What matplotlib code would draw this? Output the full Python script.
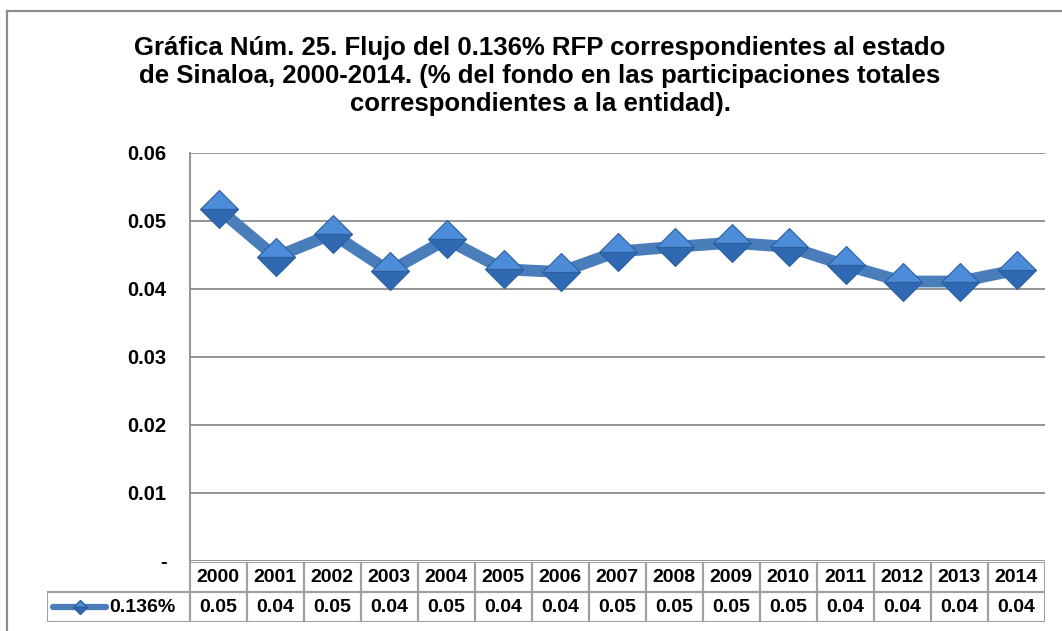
import matplotlib.pyplot as plt
from matplotlib.lines import Line2D
from matplotlib.patches import Rectangle
from matplotlib.ticker import FuncFormatter

# -------------------------
# Data
# -------------------------
years = ["2000", "2001", "2002", "2003", "2004", "2005", "2006", "2007",
         "2008", "2009", "2010", "2011", "2012", "2013", "2014"]
values = [0.0518, 0.0447, 0.0481, 0.0426, 0.0473, 0.0429, 0.0425, 0.0455,
          0.0462, 0.0468, 0.0462, 0.0435, 0.0411, 0.0411, 0.0428]
series_name = "0.136%"
yticks = [0, 0.01, 0.02, 0.03, 0.04, 0.05, 0.06]

title_lines = ["Gráfica Núm. 25. Flujo del 0.136% RFP correspondientes al estado",
               "de Sinaloa, 2000-2014. (% del fondo en las participaciones totales",
               "correspondientes a la entidad)."]

plt.rcParams['font.family'] = ['Liberation Sans', 'DejaVu Sans']
plt.rcParams['font.weight'] = 'bold'

W, H = 1062, 631
fig = plt.figure(figsize=(W / 100, H / 100), dpi=100)

line_col = "#4a7ebb"
grid_col = "#8c8c8c"
cell_col = "#a0a0a0"

# outer chart frame (cropped at right / bottom)
fig.add_artist(Line2D([7 / W, 7 / W], [0, 1 - 11 / H], color=grid_col, lw=1.6))
fig.add_artist(Line2D([7 / W, 1], [1 - 11 / H, 1 - 11 / H], color=grid_col, lw=1.6))

# title, one line at a time
for k, t in enumerate(title_lines):
    fig.text(540 / W, 1 - (48 + 28 * k) / H, t, ha='center', va='center',
             fontsize=18.5, fontweight='bold')

# -------------------------
# Main plot
# -------------------------
ax = fig.add_axes([190 / W, 1 - 561 / H, 855 / W, 408 / H])
x = list(range(len(years)))
ax.plot(x, values, color=line_col, lw=8.5, solid_joinstyle='round',
        solid_capstyle='round', zorder=3)
ax.plot(x, values, ls='none', marker='D', markersize=19.5,
        markerfacecolor="#4d8cd8", markerfacecoloralt="#2f69b2",
        fillstyle='top', markeredgecolor="#2d5f9f", markeredgewidth=0.8,
        zorder=4)

ax.set_xlim(-0.5, len(years) - 0.5)
ax.set_ylim(0, 0.06)
ax.set_yticks(yticks)
ax.yaxis.set_major_formatter(FuncFormatter(lambda v, p: "-" if v == 0 else f"{v:.2f}"))
ax.set_xticks([])
ax.tick_params(axis='y', length=0, pad=17, labelsize=14.5)
for lab in ax.get_yticklabels():
    lab.set_fontweight('bold')
ax.grid(axis='y', color=grid_col, lw=1.3)
ax.set_axisbelow(True)
for s in ['top', 'right', 'bottom']:
    ax.spines[s].set_visible(False)
ax.spines['left'].set_color(grid_col)
ax.spines['left'].set_linewidth(1.3)

# -------------------------
# Data table under the plot
# -------------------------
tab = fig.add_axes([47 / W, 1 - 622 / H, 998 / W, 60 / H])
tab.set_xlim(-3, len(years) - 0.5)
tab.set_ylim(0, 2)
tab.axis('off')

for i, (yr, v) in enumerate(zip(years, values)):
    tab.add_patch(Rectangle((i - 0.5, 1), 1, 1, fill=False, ec=cell_col, lw=1.5))
    tab.add_patch(Rectangle((i - 0.5, 0), 1, 1, fill=False, ec=cell_col, lw=1.5))
    tab.text(i, 1.5, yr, ha='center', va='center', fontsize=14, fontweight='bold')
    tab.text(i, 0.5, f"{v:.2f}", ha='center', va='center', fontsize=14, fontweight='bold')

tab.add_patch(Rectangle((-3, 0), 2.5, 1, fill=False, ec=cell_col, lw=1.5))
tab.plot([-2.9, -1.97], [0.5, 0.5], color=line_col, lw=4.5, solid_capstyle='round')
tab.plot([-2.43], [0.5], marker='D', markersize=7, markerfacecolor="#4d8cd8",
         markerfacecoloralt="#2f69b2", fillstyle='top', markeredgecolor="#2d5f9f")
tab.text(-0.75, 0.5, series_name, ha='right', va='center', fontsize=14,
         fontweight='bold')

plt.savefig("out.png", dpi=100)
